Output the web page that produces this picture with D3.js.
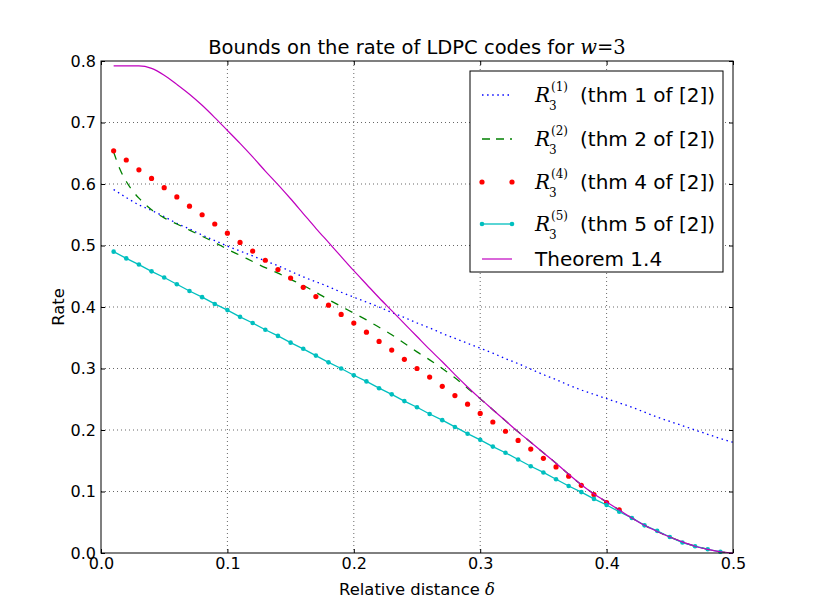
<!DOCTYPE html>
<html>
<head>
<meta charset="utf-8">
<script src="https://cdn.jsdelivr.net/npm/d3@7"></script>
<style>
  body { margin: 0; background: #fff; }
  text { font-family: "DejaVu Sans", sans-serif; }
  .math { font-family: "DejaVu Serif", "Liberation Serif", serif; font-style: italic; }
  .mathup { font-family: "DejaVu Serif", "Liberation Serif", serif; }
</style>
</head>
<body>
<svg id="chart"></svg>
<script>
////////////
// DATA
////////////

// delta values 0.01 .. 0.50
const delta = d3.range(1, 51).map(i => i / 100);

// R3^(1): thm 1 of [2] (0.01 .. 0.50)
const r1 = [
  0.591, 0.578, 0.566, 0.557, 0.547, 0.536, 0.527, 0.517, 0.508, 0.499,
  0.491, 0.483, 0.475, 0.467, 0.458, 0.449, 0.441, 0.433, 0.424, 0.416,
  0.408, 0.400, 0.391, 0.383, 0.374, 0.366, 0.357, 0.349, 0.341, 0.333,
  0.325, 0.316, 0.308, 0.299, 0.290, 0.282, 0.273, 0.265, 0.258, 0.251,
  0.244, 0.237, 0.229, 0.221, 0.214, 0.207, 0.200, 0.193, 0.186, 0.180
];

// R3^(2): thm 2 of [2]
const r2X = [0.01, 0.015, 0.02, 0.025, 0.03, 0.04, 0.05, 0.06, 0.07, 0.08, 0.09, 0.10,
  0.11, 0.12, 0.13, 0.14, 0.15, 0.16, 0.17, 0.18, 0.19, 0.20,
  0.21, 0.22, 0.23, 0.24, 0.25, 0.26, 0.27, 0.28, 0.29, 0.30,
  0.31, 0.32, 0.33, 0.34, 0.35, 0.36, 0.37, 0.38, 0.39, 0.40,
  0.41, 0.42, 0.43, 0.44, 0.45, 0.46, 0.47, 0.48, 0.49, 0.50];
const r2 = [0.652, 0.624, 0.604, 0.589, 0.577, 0.558, 0.545, 0.535, 0.525, 0.515, 0.505, 0.494,
  0.484, 0.474, 0.464, 0.455, 0.445, 0.435, 0.424, 0.412, 0.401, 0.390,
  0.379, 0.367, 0.355, 0.341, 0.327, 0.314, 0.300, 0.285, 0.268, 0.251,
  0.233, 0.215, 0.197, 0.180, 0.163, 0.146, 0.128, 0.111, 0.096, 0.083,
  0.070, 0.057, 0.045, 0.035, 0.026, 0.018, 0.011, 0.006, 0.002, 0.000];

// R3^(4): thm 4 of [2] (0.01 .. 0.41 visible)
const r4 = [
  0.654, 0.639, 0.623, 0.609, 0.594, 0.579, 0.564, 0.550, 0.535, 0.520,
  0.505, 0.491, 0.476, 0.461, 0.447, 0.432, 0.417, 0.403, 0.388, 0.374,
  0.359, 0.344, 0.330, 0.315, 0.300, 0.286, 0.271, 0.256, 0.242, 0.227,
  0.213, 0.198, 0.183, 0.169, 0.154, 0.140, 0.125, 0.110, 0.095, 0.082,
  0.070
];

// R3^(5): thm 5 of [2] (0.01 .. 0.49)
const r5 = [
  0.490, 0.479, 0.469, 0.458, 0.448, 0.437, 0.426, 0.416, 0.405, 0.395,
  0.384, 0.374, 0.363, 0.353, 0.342, 0.332, 0.321, 0.310, 0.300, 0.289,
  0.279, 0.268, 0.258, 0.247, 0.237, 0.226, 0.216, 0.205, 0.194, 0.184,
  0.173, 0.163, 0.152, 0.141, 0.131, 0.120, 0.109, 0.099, 0.088, 0.078,
  0.067, 0.057, 0.045, 0.036, 0.026, 0.017, 0.011, 0.006, 0.002
];

// Theorem 1.4 (0.01 .. 0.50)
const thm14 = [
  0.792, 0.792, 0.792, 0.788, 0.777, 0.762, 0.746, 0.728, 0.708, 0.687,
  0.666, 0.644, 0.621, 0.599, 0.576, 0.552, 0.528, 0.505, 0.482, 0.459,
  0.437, 0.415, 0.394, 0.373, 0.352, 0.331, 0.311, 0.290, 0.270, 0.251,
  0.233, 0.215, 0.197, 0.180, 0.163, 0.146, 0.128, 0.111, 0.096, 0.083,
  0.070, 0.057, 0.045, 0.035, 0.026, 0.018, 0.011, 0.006, 0.002, 0.000
];

const xTicks = [0, 0.1, 0.2, 0.3, 0.4, 0.5];
const yTicks = [0, 0.1, 0.2, 0.3, 0.4, 0.5, 0.6, 0.7, 0.8];

const legendItems = [
  { sup: "(1)", rest: "(thm 1 of [2])", kind: "dot" },
  { sup: "(2)", rest: "(thm 2 of [2])", kind: "dash" },
  { sup: "(4)", rest: "(thm 4 of [2])", kind: "marker" },
  { sup: "(5)", rest: "(thm 5 of [2])", kind: "linemarker" },
  { sup: null, rest: "Theorem 1.4", kind: "line" }
];

////////////
// SETTINGS
////////////
const width = 815, height = 615;
const plot = { left: 101, right: 733, top: 61, bottom: 553 };
const colors = { b: "#0000ff", g: "#008000", r: "#ff0000", c: "#00bfbf", m: "#bf00bf" };

const svg = d3.select("#chart").attr("width", width).attr("height", height);

const x = d3.scaleLinear().domain([0, 0.5]).range([plot.left, plot.right]);
const y = d3.scaleLinear().domain([0, 0.8]).range([plot.bottom, plot.top]);

////////////
// GRID & AXES
////////////
const grid = svg.append("g").attr("class", "grid");
grid.selectAll(".gx").data(xTicks.slice(1, -1)).join("line")
  .attr("x1", d => x(d)).attr("x2", d => x(d))
  .attr("y1", plot.top).attr("y2", plot.bottom)
  .attr("stroke", "#000").attr("stroke-width", 0.6).attr("stroke-dasharray", "1,3");
grid.selectAll(".gy").data(yTicks.slice(1, -1)).join("line")
  .attr("y1", d => y(d)).attr("y2", d => y(d))
  .attr("x1", plot.left).attr("x2", plot.right)
  .attr("stroke", "#000").attr("stroke-width", 0.6).attr("stroke-dasharray", "1,3");

const fmt = d3.format(".1f");

function styleAxis(g) {
  g.select(".domain").remove();
  g.selectAll(".tick line").attr("stroke", "#000").attr("stroke-width", 1);
  g.selectAll(".tick text").attr("font-size", 16).attr("fill", "#000")
    .attr("font-family", "DejaVu Sans");
}

svg.append("g").attr("transform", `translate(0,${plot.bottom})`)
  .call(d3.axisBottom(x).tickValues(xTicks).tickFormat(fmt).tickSize(-4).tickPadding(5))
  .call(styleAxis);
svg.append("g").attr("transform", `translate(0,${plot.top})`)
  .call(d3.axisTop(x).tickValues(xTicks).tickFormat("").tickSize(-4))
  .call(styleAxis);
svg.append("g").attr("transform", `translate(${plot.left},0)`)
  .call(d3.axisLeft(y).tickValues(yTicks).tickFormat(fmt).tickSize(-4).tickPadding(5))
  .call(styleAxis);
svg.append("g").attr("transform", `translate(${plot.right},0)`)
  .call(d3.axisRight(y).tickValues(yTicks).tickFormat("").tickSize(-4))
  .call(styleAxis);

////////////
// SERIES
////////////
const line = d3.line().x(d => x(d[0])).y(d => y(d[1])).curve(d3.curveMonotoneX);
const zipX = (xs, ys) => ys.map((v, i) => [xs[i], v]);

const chartArea = svg.append("g");

chartArea.append("path").datum(zipX(delta, r1)).attr("d", line)
  .attr("fill", "none").attr("stroke", colors.b).attr("stroke-width", 1.3)
  .attr("stroke-dasharray", "1.5,3.6");

chartArea.append("path").datum(zipX(r2X, r2)).attr("d", line)
  .attr("fill", "none").attr("stroke", colors.g).attr("stroke-width", 1.3)
  .attr("stroke-dasharray", "8,8");

chartArea.selectAll(".r4").data(zipX(delta, r4)).join("circle")
  .attr("cx", d => x(d[0])).attr("cy", d => y(d[1])).attr("r", 2.6)
  .attr("fill", colors.r);

chartArea.append("path").datum(zipX(delta, r5)).attr("d", d3.line().x(d => x(d[0])).y(d => y(d[1])))
  .attr("fill", "none").attr("stroke", colors.c).attr("stroke-width", 1.3);
chartArea.selectAll(".r5").data(zipX(delta, r5)).join("circle")
  .attr("cx", d => x(d[0])).attr("cy", d => y(d[1])).attr("r", 2.3)
  .attr("fill", colors.c);

chartArea.append("path").datum(zipX(delta, thm14)).attr("d", line)
  .attr("fill", "none").attr("stroke", colors.m).attr("stroke-width", 1.2);

// frame
svg.append("rect")
  .attr("x", plot.left).attr("y", plot.top)
  .attr("width", plot.right - plot.left).attr("height", plot.bottom - plot.top)
  .attr("fill", "none").attr("stroke", "#000").attr("stroke-width", 1);

////////////
// LEGEND
////////////
const legend = svg.append("g").attr("transform", "translate(470,71)");
legend.append("rect").attr("width", 253).attr("height", 201)
  .attr("fill", "#fff").attr("stroke", "#000").attr("stroke-width", 1);

const rowY = [24, 68, 111, 153, 188];
const hx1 = 12, hx2 = 42, tx = 65;

legendItems.forEach((item, i) => {
  const g = legend.append("g").attr("transform", `translate(0,${rowY[i]})`);
  if (item.kind === "dot") {
    g.append("line").attr("x1", hx1).attr("x2", hx2).attr("stroke", colors.b)
      .attr("stroke-width", 1.3).attr("stroke-dasharray", "1.5,3.6");
  } else if (item.kind === "dash") {
    g.append("line").attr("x1", hx1).attr("x2", hx2).attr("stroke", colors.g)
      .attr("stroke-width", 1.3).attr("stroke-dasharray", "8,6");
  } else if (item.kind === "marker") {
    [hx1, hx2].forEach(px => g.append("circle").attr("cx", px).attr("r", 2.6).attr("fill", colors.r));
  } else if (item.kind === "linemarker") {
    g.append("line").attr("x1", hx1).attr("x2", hx2).attr("stroke", colors.c).attr("stroke-width", 1.3);
    [hx1, hx2].forEach(px => g.append("circle").attr("cx", px).attr("r", 2.3).attr("fill", colors.c));
  } else {
    g.append("line").attr("x1", hx1).attr("x2", hx2).attr("stroke", colors.m).attr("stroke-width", 1.2);
  }

  if (item.sup) {
    g.append("text").attr("class", "math").attr("x", tx).attr("y", 7)
      .attr("font-size", 20).text("R");
    g.append("text").attr("class", "mathup").attr("x", tx + 14).attr("y", 15)
      .attr("font-size", 12).text("3");
    g.append("text").attr("class", "mathup").attr("x", tx + 16).attr("y", -4)
      .attr("font-size", 12).text(item.sup);
    g.append("text").attr("x", tx + 45).attr("y", 7).attr("font-size", 20).text(item.rest);
  } else {
    g.append("text").attr("x", tx).attr("y", 7).attr("font-size", 20).text(item.rest);
  }
});

////////////
// LABELS
////////////
const title = svg.append("text").attr("x", (plot.left + plot.right) / 2).attr("y", 54)
  .attr("text-anchor", "middle").attr("font-size", 19.5);
title.append("tspan").text("Bounds on the rate of LDPC codes for ");
title.append("tspan").attr("class", "math").text("w");
title.append("tspan").attr("class", "mathup").text("=3");

const xl = svg.append("text").attr("x", (plot.left + plot.right) / 2).attr("y", 595)
  .attr("text-anchor", "middle").attr("font-size", 16.4);
xl.append("tspan").text("Relative distance ");
xl.append("tspan").attr("class", "math").text("δ");

svg.append("text").attr("transform", `translate(64,${(plot.top + plot.bottom) / 2}) rotate(-90)`)
  .attr("text-anchor", "middle").attr("font-size", 16.4).text("Rate");
</script>
</body>
</html>
